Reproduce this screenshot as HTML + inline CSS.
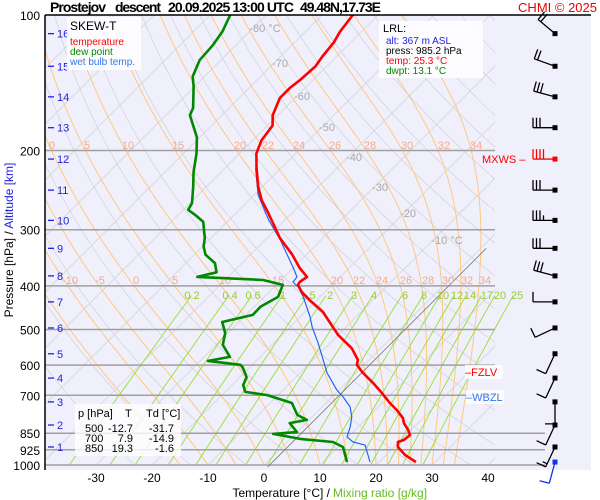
<!DOCTYPE html>
<html><head><meta charset="utf-8"><style>
html,body{margin:0;padding:0;background:#fff;}
svg{display:block;font-family:"Liberation Sans",sans-serif;}
</style></head><body>
<svg id="chart" width="600" height="500" viewBox="0 0 600 500">
<defs>
<clipPath id="clipPlot"><rect x="45" y="15" width="450" height="450"/></clipPath>
<clipPath id="clipWide"><rect x="45" y="15" width="500" height="450"/></clipPath>
</defs>
<rect x="45" y="15" width="546" height="455" fill="#f0f0fc"/>
<g id="gGrid"></g>
<g id="gSeries"></g>
<g id="gWind"></g>
<line x1="45" y1="15" x2="45" y2="470" stroke="#000" stroke-width="1.5"/>
<line x1="45" y1="15" x2="591" y2="15" stroke="#000" stroke-width="1.5"/>
<g id="gAxis" font-size="12" fill="#000"></g>
<g font-weight="bold" font-size="14">
<text x="50" y="12" textLength="56">Prostejov</text>
<text x="115" y="12" textLength="46">descent</text>
<text x="168" y="12" textLength="126">20.09.2025 13:00 UTC</text>
<text x="300" y="12" textLength="81">49.48N,17.73E</text>
</g>
<text x="597" y="12" text-anchor="end" font-size="13" fill="#e00">CHMI © 2025</text>
<g>
<rect x="67" y="17" width="74" height="53" fill="#fff" opacity="0.85"/>
<text x="70" y="30" font-size="12" fill="#000">SKEW-T</text>
<text x="70" y="45" font-size="10" fill="#f00">temperature</text>
<text x="70" y="55" font-size="10" fill="#080">dew point</text>
<text x="70" y="65" font-size="10" fill="#3377ee">wet bulb temp.</text>
</g>
<g>
<rect x="379" y="21" width="104" height="57" fill="#fff" opacity="0.85"/>
<text x="383" y="32" font-size="11">LRL:</text>
<text x="386" y="44" font-size="10" fill="#22d">alt: 367 m ASL</text>
<text x="386" y="54" font-size="10" fill="#000">press: 985.2 hPa</text>
<text x="386" y="64" font-size="10" fill="#f00">temp: 25.3 °C</text>
<text x="386" y="74" font-size="10" fill="#080">dwpt: 13.1 °C</text>
</g>
<g font-size="11">
<rect x="75" y="404" width="106" height="52" fill="#fff" opacity="0.8"/>
<text x="78" y="417">p [hPa]</text><text x="125" y="417">T</text><text x="146" y="417">Td [°C]</text>
<text x="85" y="432">500</text><text x="133" y="432" text-anchor="end">-12.7</text><text x="174" y="432" text-anchor="end">-31.7</text>
<text x="85" y="442">700</text><text x="133" y="442" text-anchor="end">7.9</text><text x="174" y="442" text-anchor="end">-14.9</text>
<text x="85" y="452">850</text><text x="133" y="452" text-anchor="end">19.3</text><text x="174" y="452" text-anchor="end">-1.6</text>
</g>
<g><rect x="465" y="365" width="38" height="14" fill="#fff" opacity="0.8"/><text x="465" y="376" font-size="11" fill="#f00">–FZLV</text></g>
<g><rect x="466" y="390" width="38" height="14" fill="#fff" opacity="0.8"/><text x="466" y="401" font-size="11" fill="#3377ee">–WBZL</text></g>
<text x="482" y="163" font-size="11" fill="#f00">MXWS –</text>
<text x="330" y="497" font-size="12" text-anchor="end">Temperature [°C]  /</text>
<text x="333" y="497" font-size="12" fill="#66bb22">Mixing ratio [g/kg]</text>
<text transform="translate(13,240) rotate(-90)" font-size="12" text-anchor="middle">Pressure [hPa]  /  <tspan fill="#22d">Altitude [km]</tspan></text>
</svg>
<script>
const tempP = [985,950,912,889,880,858,836,807,786,755,728,692,657,621,599,584,550,514,489,457,430,413,398,392,382,365,341,313,274,258,241,218,203,190,176,167,153,145,139,130,124,115,109,100];
const tempT = [26.6,23.4,20.7,19.8,20.5,20.7,19.5,17.5,16.4,13.9,11.4,8.2,4.8,0.9,-1.3,-2.0,-5.2,-10.0,-12.9,-16.8,-21.3,-24.1,-26.1,-26.3,-25.9,-28.8,-32.5,-37.7,-44.5,-47.7,-50.7,-54.5,-57.0,-58.4,-59.1,-60.9,-62.7,-62.7,-62.3,-62.0,-62.5,-63.0,-63.8,-64.5];
const dewP = [985,912,889,875,853,845,807,794,774,728,699,688,664,638,606,599,587,575,541,509,481,464,445,423,398,388,384,382,373,356,341,327,313,288,278,271,262,241,224,203,187,167,161,144,137,126,117,109,100];
const dewT = [14.3,10.9,8.2,1.8,-3.9,0.0,-2.9,-0.4,-3.0,-6.1,-12.0,-16.4,-18.0,-18.8,-21.3,-22.1,-28.6,-25.4,-28.8,-30.5,-33.0,-28.8,-28.9,-27.5,-28.8,-33.2,-41.3,-45.5,-42.9,-44.8,-48.0,-49.8,-51.1,-54.3,-57.0,-59.1,-59.6,-62.3,-64.8,-67.7,-70.5,-75.7,-76.4,-80.2,-82.1,-83.8,-84.1,-84.8,-86.4];
const wbP = [985,903,889,866,823,782,743,706,681,624,575,536,493,469,423,402,392,382,363,316,285,251,219];
const wbT = [18.4,14.5,11.8,9.8,8.6,7.1,5.0,2.0,-0.4,-5.2,-8.9,-12.1,-16.1,-18.2,-23.0,-25.7,-27.5,-27.7,-30.2,-37.3,-43.0,-49.3,-54.5];
const windP = [985,912,815,724,641,566,496,434,380,330,286,245,209,178,152,130,110];
const windDir = [195,205,205,180,205,205,245,270,285,270,270,270,270,270,285,290,310];
const windSpd = [10,15,10,10,10,10,10,10,30,30,35,30,40,30,30,20,20];
const pLevels = [100,200,300,400,500,600,700,850,925,1000];
const tTicks = [-30,-20,-10,0,10,20,30,40];
const kmLabels = [1,2,3,4,5,6,7,8,9,10,11,12,13,14,15,16];
const kmP = [912,815,724,641,566,496,434,380,330,286,245,209,178,152,130,110];
const isoT = [-140,-130,-120,-110,-100,-90,-80,-70,-60,-50,-40,-30,-20,-10,0,10,20,30,40,50];
const thetaK = [250,260,270,280,290,300,310,320,330,340,350,360,370,380,390,400,410,420,430,440,450,460,470,480];
const thetaW = [-15,-10,-5,0,5,10,15,20,22,24,26,28,30,32,34];
const mixW = [0.2,0.4,0.6,1,1.5,2,3,4,6,8,10,12,14,17,20,25];

function Y(p){return 465-450*Math.log10(1000/p);}
function X(T,p){return 264+5.6*T+(465-Y(p));}
const NS='http://www.w3.org/2000/svg';
function mk(tag,attrs,parent){const e=document.createElementNS(NS,tag);for(const k in attrs)e.setAttribute(k,attrs[k]);parent.appendChild(e);return e;}
const gGrid=document.getElementById('gGrid'),gSeries=document.getElementById('gSeries'),gAxis=document.getElementById('gAxis'),gWind=document.getElementById('gWind');
function pathFrom(pts){return pts.map((q,i)=>(i?'L':'M')+q[0].toFixed(1)+','+q[1].toFixed(1)).join('');}

const gClip=mk('g',{'clip-path':'url(#clipPlot)'},gGrid);


const gClipW=mk('g',{'clip-path':'url(#clipWide)'},gGrid);



isoT.forEach(t=>{
  const l=mk('line',{x1:X(t,1050),y1:Y(1050),x2:X(t,100),y2:Y(100),stroke:'#d4d4dc','stroke-width':0.8},gClip);
  
  
});
thetaK.forEach(th=>{
  const pts=[];for(let p=1050;p>=100;p-=10){pts.push([X(th*Math.pow(p/1000,0.2857)-273.15,p),Y(p)]);}
  const e=mk('path',{d:pathFrom(pts),fill:'none',stroke:'#d4d4dc','stroke-width':0.8},gClip);
  
  
});
function es(Tc){return 6.112*Math.exp(17.67*Tc/(Tc+243.5));}
thetaW.forEach(tw=>{
  let T=tw+273.15,p=1000;const pts=[[X(tw,1000),Y(1000)]];
  while(p>100){
    const Tc=T-273.15,e=es(Tc),rs=0.622*e/(p-e);
    const dTdp=(287*T+2.5e6*rs)/(p*(1005+2.5e6*2.5e6*rs*0.622/(287*T*T)));
    const dp=-2;T+=dTdp*dp;p+=dp;pts.push([X(T-273.15,p),Y(p)]);
  }
  const e=mk('path',{d:pathFrom(pts),fill:'none',stroke:'#ffc880','stroke-width':1},gClip);
  
  
});
mixW.forEach(w=>{
  const pts=[];for(let p=1000;p>=417;p-=10){const e=w/1000*p/(0.622+w/1000);const lv=Math.log(e/6.112);const Tc=243.5*lv/(17.67-lv);pts.push([X(Tc,p),Y(p)]);}
  const e=mk('path',{d:pathFrom(pts),fill:'none',stroke:'#99dd33','stroke-width':0.9},gClipW);
  
  
});
pLevels.forEach(p=>{
  if(p===100)return;
  const x2=(p>=850)?545:495;
  const l=mk('line',{x1:45,y1:Y(p),x2:x2,y2:Y(p),stroke:'#a0a0a0','stroke-width':1.5},gGrid);
  
  
});
{const l=mk('line',{x1:X(1,1010),y1:Y(1010),x2:X(1,330),y2:Y(330),stroke:'#777','stroke-width':0.8},gGrid);

}

const isoLab=[['-80 °C',265,32],['-70',280,67],['-60',302,100],['-50',327,131],['-40',354,161],['-30',380,191],['-20',408,217],['-10 °C',447,244]];
isoLab.forEach(a=>{const t=mk('text',{x:a[1],y:a[2],'font-size':11,fill:'#a8a8a8','text-anchor':'middle'},gGrid);t.textContent=a[0];

});
const mRow1=[['0',52],['5',87],['10',128],['15',178],['20',240],['22',268],['24',299],['26',335],['28',370],['30',407],['32',444],['34',476]];
mRow1.forEach(a=>{const t=mk('text',{x:a[1],y:149,'font-size':11,fill:'#f8a888','text-anchor':'middle'},gGrid);t.textContent=a[0];

});
const mRow2=[['-10',70],['-5',100],['0',136],['5',175],['10',225],['15',278],['20',337],['22',359],['24',382],['26',406],['28',428],['30',448],['32',467],['34',485]];
mRow2.forEach(a=>{const t=mk('text',{x:a[1],y:284,'font-size':11,fill:'#f8a888','text-anchor':'middle'},gGrid);t.textContent=a[0];

});
const wLab=[192,230,253,283,308,330,354,374,405,424,443,457,470,487,500,517];
mixW.forEach((w,i)=>{const t=mk('text',{x:wLab[i],y:299,'font-size':11,fill:'#99cc33','text-anchor':'middle'},gGrid);t.textContent=String(w);

});

function series(P,T,color,w,name){
  const pts=P.map((p,i)=>[X(T[i],p),Y(p)]);
  const e=mk('path',{d:pathFrom(pts),fill:'none',stroke:color,'stroke-width':w,'stroke-linejoin':'round'},gSeries);
  
  
}
series(wbP,wbT,'#2266ee',1.2,'wet-bulb-line');
series(dewP,dewT,'#008800',2.6,'dew-point-line');
series(tempP,tempT,'#ff0000',2.6,'temperature-line');

pLevels.forEach(p=>{const t=mk('text',{x:40,y:Y(p)+5,'text-anchor':'end','font-size':12},gAxis);t.textContent=String(p);

});
tTicks.forEach(v=>{const t=mk('text',{x:X(v,1000),y:482,'text-anchor':'middle','font-size':12},gAxis);t.textContent=String(v);

});
kmLabels.forEach((k,i)=>{const y=Y(kmP[i]);
  const l=mk('line',{x1:48,y1:y,x2:54,y2:y,stroke:'#22d','stroke-width':1.3},gAxis);
  
  
  const t=mk('text',{x:57,y:y+4,'font-size':11,fill:'#22d'},gAxis);t.textContent=String(k);
  
  });

windP.forEach((p,i)=>{
  const y0=Y(p),x0=555,d=windDir[i]*Math.PI/180;
  const ux=Math.sin(d),uy=-Math.cos(d),vx=-uy,vy=ux;
  const L=22,col=(p===209)?'#f00':(i===0?'#1133ee':'#000');
  const ex=x0+ux*L,ey=y0+uy*L;
  let dstr='M'+x0+','+y0+'L'+ex.toFixed(1)+','+ey.toFixed(1);
  let s=windSpd[i],k=0;
  while(s>=10){const bx=ex-ux*k*3.5,by=ey-uy*k*3.5;dstr+='M'+bx.toFixed(1)+','+by.toFixed(1)+'L'+(bx+vx*10).toFixed(1)+','+(by+vy*10).toFixed(1);s-=10;k++;}
  if(s>=5){const bx=ex-ux*k*3.5,by=ey-uy*k*3.5;dstr+='M'+bx.toFixed(1)+','+by.toFixed(1)+'L'+(bx+vx*5).toFixed(1)+','+(by+vy*5).toFixed(1);}
  const e=mk('path',{d:dstr,fill:'none',stroke:col,'stroke-width':1.3},gWind);
  
  
  const r=mk('rect',{x:x0-2.5,y:y0-2.5,width:5,height:5,fill:col},gWind);
  
  
});
</script>
</body></html>
